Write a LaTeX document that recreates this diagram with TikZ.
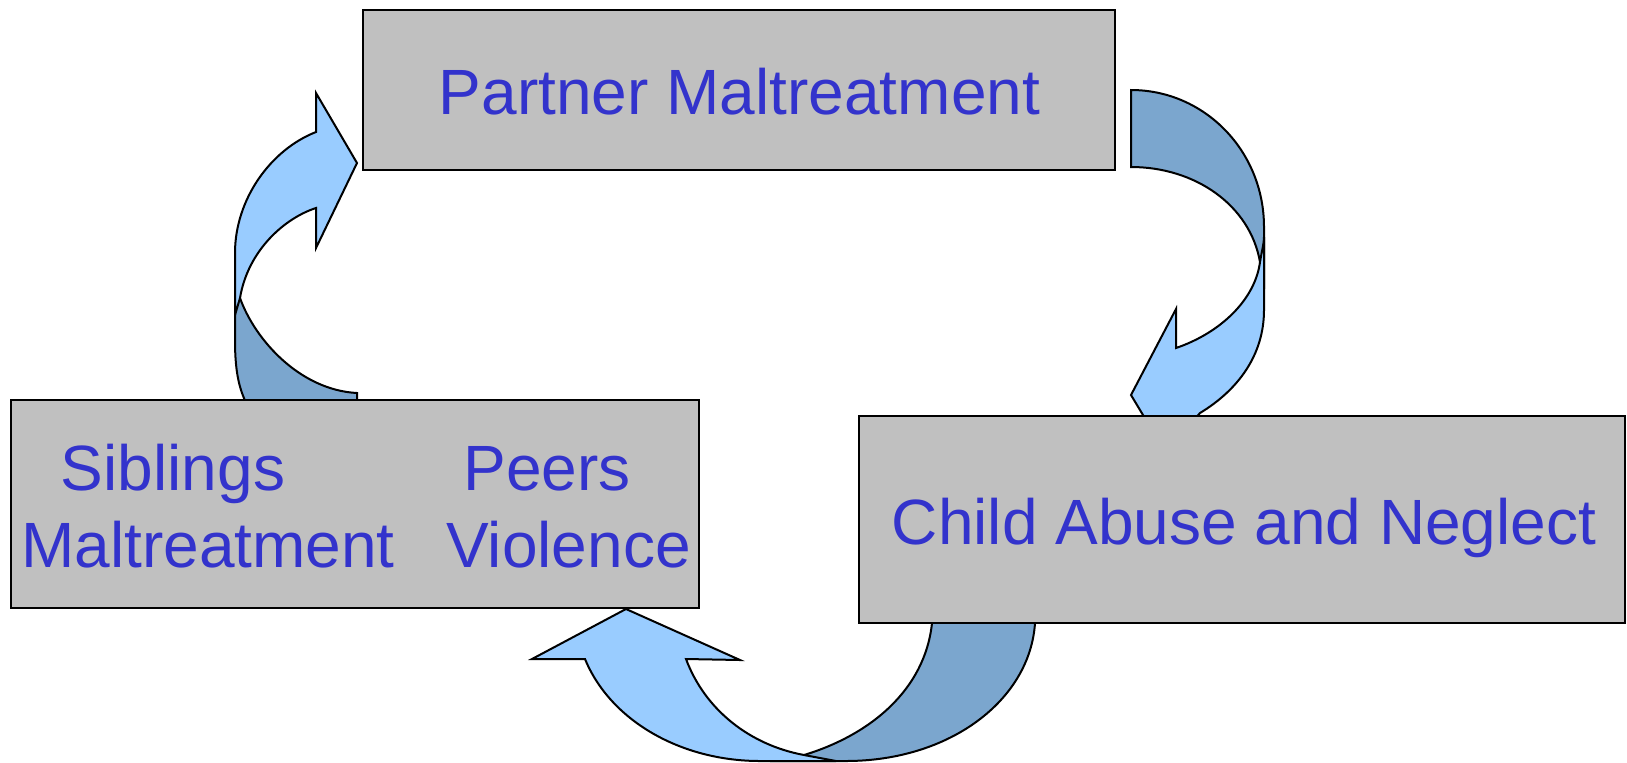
\documentclass[tikz,border=0pt]{standalone}
\usepackage{fontspec}
\setmainfont{Liberation Sans}
\definecolor{boxgray}{HTML}{C0C0C0}
\definecolor{txtblue}{HTML}{3333CC}
\definecolor{arrlight}{HTML}{99CCFF}
\definecolor{arrdark}{HTML}{7BA6CE}
\begin{document}
\begin{tikzpicture}[x=0.5pt,y=-0.5pt,
  box/.style={draw=black,line width=1.2pt,fill=boxgray,inner sep=0pt,outer sep=0pt},
  lbl/.style={text=txtblue,font=\fontsize{32pt}{38.4pt}\selectfont,inner sep=0pt},
  light/.style={fill=arrlight,draw=black,line width=1pt,line join=miter},
  dark/.style={fill=arrdark,draw=black,line width=1pt,line join=miter}]
\useasboundingbox (0,0) rectangle (1627,762);
% arrow A: Partner -> Child
\path[dark] (1131,90) .. controls (1204.5,90) and (1264,151) .. (1264,227) -- (1264,280) -- (1260,262)
  .. controls (1250,205) and (1195,167) .. (1131,167) -- cycle;
\path[light] (1264,237) -- (1264,310) .. controls (1264,355) and (1238,390) .. (1200,413) -- (1185,430)
  -- (1152,430) -- (1143,415) -- (1131,395) -- (1176,309) -- (1176,348)
  .. controls (1220,333) and (1255,300) .. (1260,262) .. controls (1262,250) and (1264,243) .. (1264,237) -- cycle;
% arrow B: Siblings -> Partner
\path[dark] (235,280) -- (235,340) .. controls (235,375) and (240,390) .. (247,405) -- (252,420) -- (357,420)
  -- (357,393) .. controls (300,390) and (255,340) .. (240,298) -- cycle;
\path[light] (357,163) -- (316,93) -- (316,132) .. controls (270,150) and (235,200) .. (235,253) -- (235,315)
  -- (240,298) .. controls (248,250) and (285,218) .. (316,208) -- (316,248) -- cycle;
% arrow C: Child -> Siblings
\path[dark] (932,610) -- (932,623) .. controls (925,690) and (870,735) .. (804,755) -- (770,761) -- (846,761)
  .. controls (950,761) and (1030,700) .. (1035,623) -- (1035,610) -- cycle;
\path[light] (626,609) -- (532,659) -- (585,659) .. controls (610,720) and (680,761) .. (760,761) -- (836,761)
  -- (804,755) .. controls (750,745) and (705,710) .. (686,659) -- (740,660) -- cycle;
% boxes
\node[box,minimum width=376pt,minimum height=80pt] (partner) at (739,90) {};
\node[box,minimum width=344pt,minimum height=104pt] (sib) at (355,504) {};
\node[box,minimum width=383pt,minimum height=103.5pt] (child) at (1242,519.5) {};
% texts
\node[lbl,anchor=base] (tpartner) at (739.5,114) {Partner Maltreatment};
\node[lbl,anchor=base] (tchild) at (1244,544) {Child Abuse and Neglect};
\node[lbl,anchor=base] (tsib) at (173,490) {Siblings};
\node[lbl,anchor=base] (tmal) at (208,567) {Maltreatment};
\node[lbl,anchor=base] (tpeers) at (547,490) {Peers};
\node[lbl,anchor=base] (tviol) at (568.5,567) {Violence};
\end{tikzpicture}
\end{document}
